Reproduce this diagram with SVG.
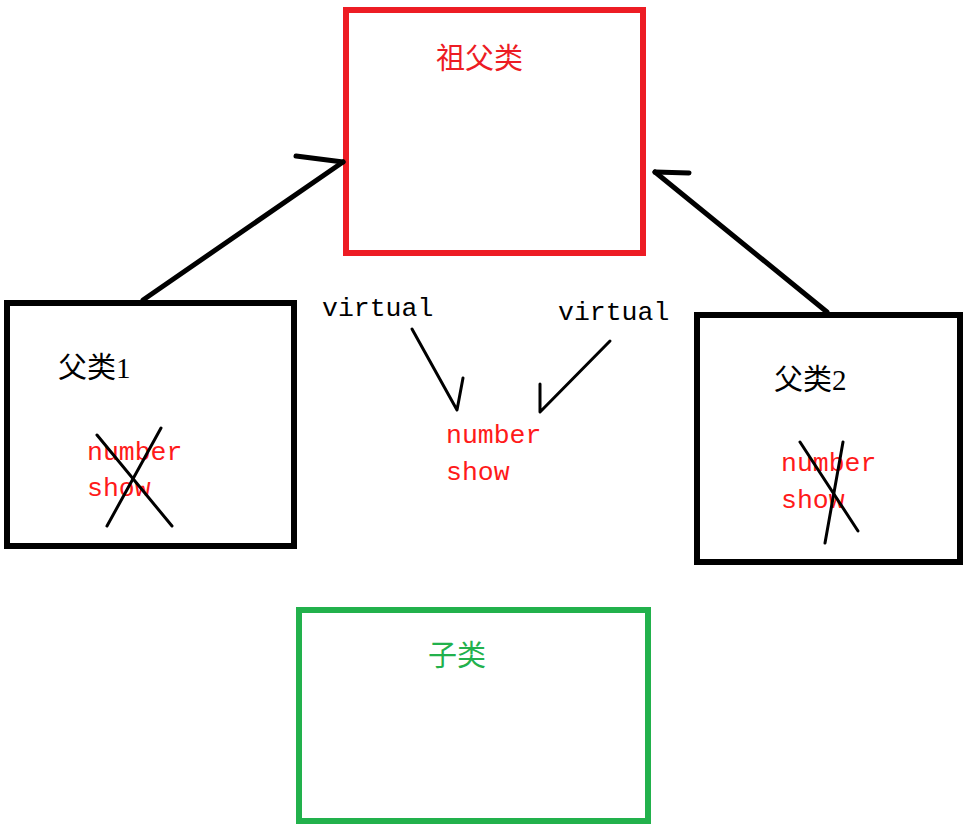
<svg xmlns="http://www.w3.org/2000/svg" width="970" height="831" viewBox="0 0 970 831">
<style>
.box{fill:none;stroke-width:6}
.cjk{font-family:"Liberation Serif","Noto Sans CJK SC",serif;font-size:29px}
.mono{font-family:"Liberation Mono","Noto Sans CJK SC",monospace;font-size:26.5px}
.red{fill:#ff1a1a}
.ln{stroke:#000;fill:none;stroke-linecap:round;stroke-linejoin:round}
</style>
<rect width="970" height="831" fill="#fff"/>
<g id="grandparent">
<rect class="box" x="346" y="10" width="297" height="243" stroke="#ed1c24"/>
<text class="cjk" x="436" y="69" fill="#ed1c24">祖父类</text>
</g>
<g id="parent1">
<rect class="box" x="7" y="303" width="287" height="243" stroke="#000"/>
<text class="cjk" x="58" y="378" fill="#000">父类1</text>
<text class="mono red" x="87" y="460">number</text>
<text class="mono red" x="87" y="496">show</text>
<line class="ln" x1="97" y1="435" x2="172" y2="526" stroke-width="3"/>
<line class="ln" x1="161" y1="428" x2="107" y2="526" stroke-width="3"/>
</g>
<g id="parent2">
<rect class="box" x="697" y="315" width="263" height="247" stroke="#000"/>
<text class="cjk" x="774" y="390" fill="#000">父类2</text>
<text class="mono red" x="781" y="471">number</text>
<text class="mono red" x="781" y="508">show</text>
<line class="ln" x1="800" y1="442" x2="858" y2="531" stroke-width="3"/>
<line class="ln" x1="843" y1="442" x2="825" y2="543" stroke-width="3"/>
</g>
<g id="middle">
<text class="mono" x="322" y="316" fill="#000">virtual</text>
<text class="mono" x="558" y="320" fill="#000">virtual</text>
<text class="mono red" x="446" y="443">number</text>
<text class="mono red" x="446" y="480">show</text>
</g>
<g id="child">
<rect class="box" x="299" y="610" width="349" height="211" stroke="#22b14c"/>
<text class="cjk" x="428" y="666" fill="#22b14c">子类</text>
</g>
<g id="connectors">
<polyline class="ln" points="143,300 343,162" stroke-width="5"/>
<polyline class="ln" points="296,156 343,162" stroke-width="5"/>
<polyline class="ln" points="827,312 655,172" stroke-width="5"/>
<polyline class="ln" points="655,172 689,173" stroke-width="5"/>
<polyline class="ln" points="412,329 457,410 463,378" stroke-width="3"/>
<polyline class="ln" points="610,341 540,412 540,384" stroke-width="3"/>
</g>
</svg>
